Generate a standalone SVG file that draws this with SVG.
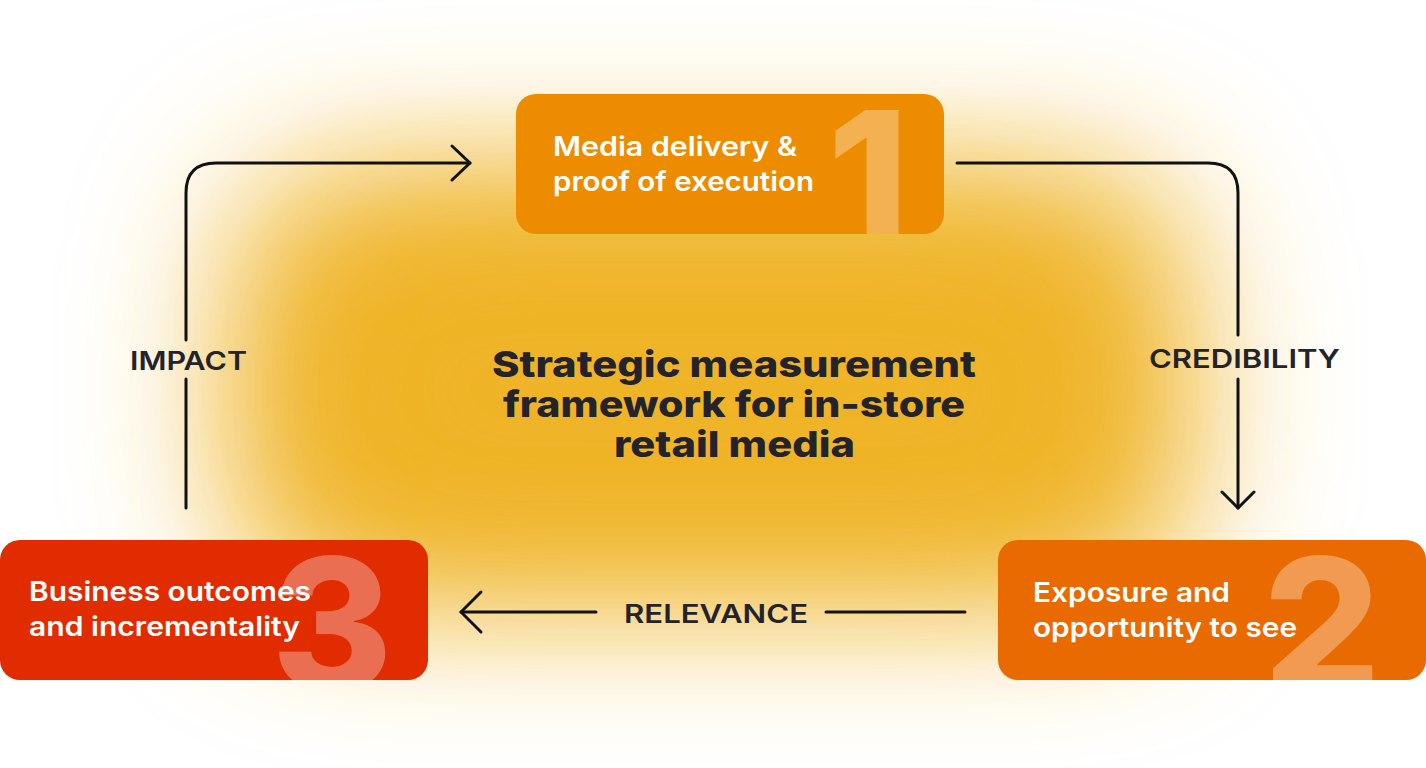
<svg xmlns="http://www.w3.org/2000/svg" width="1426" height="768" viewBox="0 0 1426 768">
<defs>
<filter id="glow" x="-50%" y="-50%" width="200%" height="200%"><feGaussianBlur stdDeviation="75"/></filter>
<clipPath id="c1"><rect x="516" y="94" width="428" height="140" rx="20"/></clipPath>
<clipPath id="c2"><rect x="998" y="540" width="428" height="140" rx="20"/></clipPath>
<clipPath id="c3"><rect x="0" y="540" width="428" height="140" rx="20"/></clipPath>
</defs>
<style>
.lbl{font-family:Inter,"Liberation Sans",sans-serif;font-weight:600;font-size:27px;fill:#fff}
.num{font-family:Inter,"Liberation Sans",sans-serif;font-weight:800;font-size:185px;fill:#fff;fill-opacity:0.32}
.edge{font-family:Inter,"Liberation Sans",sans-serif;font-weight:600;font-size:26px;fill:#23232b}
.title{font-family:Inter,"Liberation Sans",sans-serif;font-weight:800;font-size:36px;fill:#23232b}
.ln{fill:none;stroke:#111;stroke-width:3;stroke-linecap:round;stroke-linejoin:round}
</style>
<rect width="1426" height="768" fill="#fff"/>
<rect x="230" y="170" width="960" height="430" rx="120" fill="#efb428" filter="url(#glow)"/>
<rect x="330" y="240" width="760" height="300" rx="100" fill="#efb428" filter="url(#glow)" opacity="0.8"/>

<g id="connectors">
<path class="ln" d="M186 340 V193 Q186 163 216 163 H470"/>
<path class="ln" d="M186 508 V379"/>
<path class="ln" d="M452 146 L470 163 L452 180"/>
<path class="ln" d="M957 163 H1208 Q1238 163 1238 193 V335"/>
<path class="ln" d="M1238 379 V508"/>
<path class="ln" d="M1222 492 L1238 508 L1254 492"/>
<path class="ln" d="M965 612 H826"/>
<path class="ln" d="M596 612 H461"/>
<path class="ln" d="M481 592 L461 612 L481 632"/>
</g>
<g id="edge-labels">
<text class="edge" x="130" y="370" textLength="117" lengthAdjust="spacingAndGlyphs">IMPACT</text>
<text class="edge" x="1149" y="368" textLength="191" lengthAdjust="spacingAndGlyphs">CREDIBILITY</text>
<text class="edge" x="624" y="623" textLength="184" lengthAdjust="spacingAndGlyphs">RELEVANCE</text>
</g>

<g id="title">
<text class="title" x="492" y="377" textLength="484" lengthAdjust="spacingAndGlyphs">Strategic measurement</text>
<text class="title" x="503" y="417" textLength="462" lengthAdjust="spacingAndGlyphs">framework for in-store</text>
<text class="title" x="614" y="457" textLength="241" lengthAdjust="spacingAndGlyphs">retail media</text>
</g>

<g id="node1">
<rect x="516" y="94" width="428" height="140" rx="20" fill="#ee8c00"/>
<text class="num" clip-path="url(#c1)" x="868" y="245" text-anchor="middle">1</text>
<text class="lbl" x="553" y="156" textLength="244" lengthAdjust="spacingAndGlyphs">Media delivery &amp;</text>
<text class="lbl" x="553" y="191" textLength="261" lengthAdjust="spacingAndGlyphs">proof of execution</text>
</g>
<g id="node2">
<rect x="998" y="540" width="428" height="140" rx="20" fill="#e96a00"/>
<text class="num" clip-path="url(#c2)" x="1322" y="691" text-anchor="middle">2</text>
<text class="lbl" x="1033" y="602" textLength="197" lengthAdjust="spacingAndGlyphs">Exposure and</text>
<text class="lbl" x="1033" y="637" textLength="264" lengthAdjust="spacingAndGlyphs">opportunity to see</text>
</g>
<g id="node3">
<rect x="0" y="540" width="428" height="140" rx="20" fill="#e12c00"/>
<text class="num" clip-path="url(#c3)" x="332" y="691" text-anchor="middle">3</text>
<text class="lbl" x="29" y="601" textLength="282" lengthAdjust="spacingAndGlyphs">Business outcomes</text>
<text class="lbl" x="29" y="636" textLength="271" lengthAdjust="spacingAndGlyphs">and incrementality</text>
</g>
</svg>
